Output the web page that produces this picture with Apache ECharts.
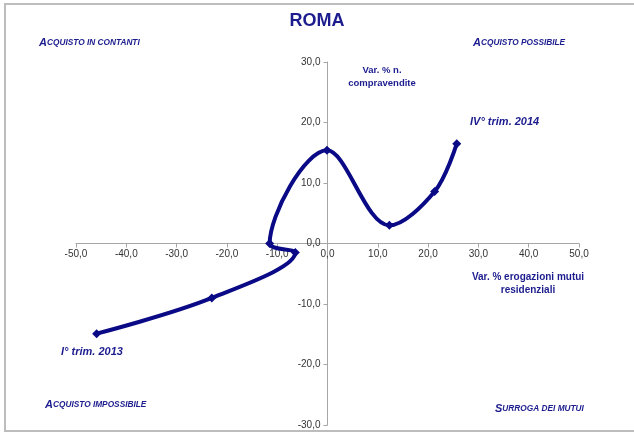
<!DOCTYPE html>
<html>
<head>
<meta charset="utf-8">
<script src="https://cdn.jsdelivr.net/npm/echarts@6/dist/echarts.min.js"></script>
<style>html,body{margin:0;padding:0;background:#fff}#c{width:634px;height:434px}</style>
</head>
<body>
<div id="c"></div>
<script>
// Data
const mutuiVar = [-45.9, -23.0, -6.4, -11.5, -0.1, 12.3, 21.3, 25.7];
const compravenditeVar = [-14.9, -9.0, -1.5, 0.0, 15.4, 3.0, 8.6, 16.5];
const pointLabels = ["I° trim. 2013", "", "", "", "", "", "", "IV° trim. 2014"];
const titleText = "ROMA";
const xAxisName = "Var. % erogazioni mutui\nresidenziali";
const yAxisName = "Var. % n.\ncompravendite";

const navy = '#1c1c8f';
const lineColor = '#0a0a86';
const fmt = v => v.toFixed(1).replace('.', ',');

const chart = echarts.init(document.getElementById('c'), null, {renderer: 'canvas'});

function smallCaps(first, rest) {
  return {
    text: '{a|' + first + '}{b|' + rest + '}',
    verticalAlign: 'middle',
    rich: {
      a: {fontSize: 11, fontWeight: 'bold', fontStyle: 'italic', fill: navy, fontFamily: 'Liberation Sans'},
      b: {fontSize: 8.3, fontWeight: 'bold', fontStyle: 'italic', fill: navy, fontFamily: 'Liberation Sans'}
    }
  };
}

chart.setOption({
  animation: false,
  grid: {left: 76, right: 55, top: 62, bottom: 9, containLabel: false},
  xAxis: {
    type: 'value', min: -50, max: 50, interval: 10,
    position: 'bottom', offset: -181.5,
    axisLine: {onZero: false, lineStyle: {color: '#a6a6a6', width: 1}},
    axisTick: {show: true, inside: false, length: 4, lineStyle: {color: '#a6a6a6'}},
    axisLabel: {formatter: fmt, color: '#333', fontSize: 10, fontFamily: 'Liberation Sans', margin: 6},
    splitLine: {show: false}
  },
  yAxis: {
    type: 'value', min: -30, max: 30, interval: 10,
    position: 'left', offset: -251.5,
    axisLine: {onZero: false, lineStyle: {color: '#a6a6a6', width: 1}},
    axisTick: {show: true, length: 4, lineStyle: {color: '#a6a6a6'}},
    axisLabel: {formatter: fmt, color: '#333', fontSize: 10, fontFamily: 'Liberation Sans', margin: 7},
    splitLine: {show: false}
  },
  series: [{
    type: 'line',
    smooth: 0.35,
    data: mutuiVar.map((x, i) => [x, compravenditeVar[i]]),
    symbol: 'diamond',
    symbolSize: 9,
    itemStyle: {color: lineColor},
    lineStyle: {color: lineColor, width: 4},
    label: {show: false}
  }],
  graphic: [
    {type: 'rect', shape: {x: 5, y: 4, width: 660, height: 427}, style: {fill: 'none', stroke: '#bdbdbd', lineWidth: 2}, silent: true},
    {type: 'text', left: 'center', top: 12, style: {text: titleText, fontSize: 18, fontWeight: 'bold', fill: navy, fontFamily: 'Liberation Sans'}},
    {type: 'text', x: 39, y: 43, style: smallCaps('A', 'CQUISTO IN CONTANTI')},
    {type: 'text', x: 473, y: 43, style: smallCaps('A', 'CQUISTO POSSIBILE')},
    {type: 'text', x: 45, y: 405, style: smallCaps('A', 'CQUISTO IMPOSSIBILE')},
    {type: 'text', x: 495, y: 409, style: smallCaps('S', 'URROGA DEI MUTUI')},
    {type: 'text', x: 382, y: 64, style: {text: yAxisName, align: 'center', fontSize: 9.5, fontWeight: 'bold', fill: navy, fontFamily: 'Liberation Sans', lineHeight: 13}},
    {type: 'text', x: 528, y: 271, style: {text: xAxisName, align: 'center', fontSize: 10, fontWeight: 'bold', fill: navy, fontFamily: 'Liberation Sans', lineHeight: 13}},
    {type: 'text', x: 61, y: 346, style: {text: pointLabels[0], fontSize: 11, fontWeight: 'bold', fontStyle: 'italic', fill: navy, fontFamily: 'Liberation Sans'}},
    {type: 'text', x: 470, y: 116, style: {text: pointLabels[7], fontSize: 11, fontWeight: 'bold', fontStyle: 'italic', fill: navy, fontFamily: 'Liberation Sans'}}
  ]
});
</script>
</body>
</html>
